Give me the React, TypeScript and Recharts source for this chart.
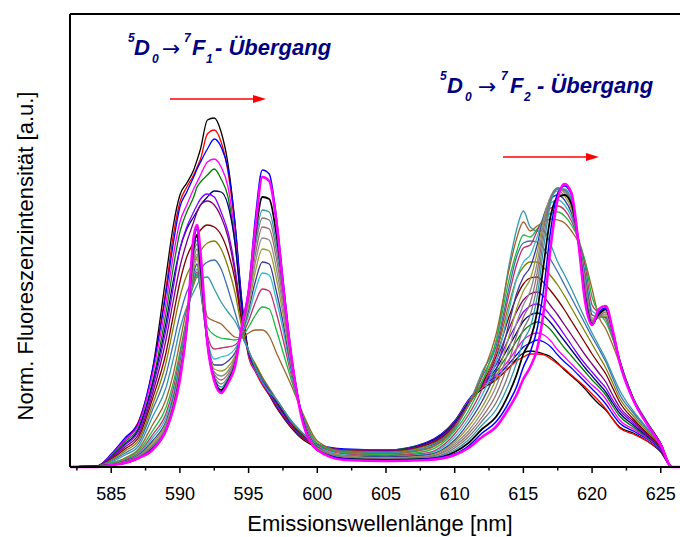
import { LineChart, Line, XAxis, YAxis, ReferenceLine } from "recharts";

// Emission wavelength grid (nm) shared by every spectrum
const wavelengths = [
  582, 584, 585, 586, 587, 588, 589, 589.5, 590, 590.5,
  591, 591.25, 591.5, 592, 592.5, 593, 593.5, 594, 594.5, 595,
  595.5, 596, 596.5, 597, 597.5, 598, 599, 600, 602, 605,
  608, 610, 611, 612, 613, 614, 614.5, 615, 615.5, 616,
  616.5, 617, 617.5, 618, 618.5, 619, 619.5, 620, 620.5, 621,
  621.5, 622, 623, 624, 625, 625.8, 626.4,
];

// first half of the series: broad 592 nm band shrinking
const black1 = [
  0, 1, 12, 27, 44, 97, 192, 240, 272, 284, 297, 307, 318, 347, 349, 335, 303, 245, 165, 112, 97, 83, 72, 60, 50, 41, 27, 20, 16, 15, 23,
  45, 65, 78, 87, 100, 108, 114, 116, 115, 113, 110, 104, 97, 91, 85, 78, 70, 63, 57, 48, 40, 34, 26, 15, 0, 0,
];
const red1 = [
  0, 1, 12, 28, 46, 95, 180, 230, 265, 280, 292, 300, 308, 333, 337, 325, 295, 240, 162, 110, 95, 82, 72, 61, 51, 42, 28, 22, 17, 16, 24,
  46, 66, 80, 88, 100, 106, 110, 113, 113, 112, 108, 103, 98, 92, 86, 80, 73, 66, 58, 48, 39, 33, 26, 16, 0, 0,
];
const blue1 = [
  0, 1, 13, 29, 45, 97, 175, 222, 260, 275, 290, 298, 305, 318, 328, 320, 298, 245, 168, 113, 96, 84, 73, 62, 52, 43, 29, 23, 18, 17, 25,
  46, 67, 82, 90, 104, 112, 120, 124, 127, 125, 120, 112, 105, 99, 92, 85, 78, 71, 63, 53, 44, 36, 28, 17, 0, 0,
];
const magenta1 = [
  0, 1, 12, 27, 43, 92, 165, 210, 245, 262, 278, 285, 292, 305, 308, 300, 280, 232, 160, 112, 96, 84, 74, 63, 53, 44, 30, 23, 17, 16, 24,
  45, 66, 82, 92, 108, 118, 127, 132, 134, 132, 126, 117, 110, 103, 96, 89, 82, 76, 68, 57, 47, 38, 29, 18, 0, 0,
];
const green1 = [
  0, 1, 11, 25, 40, 85, 155, 198, 235, 255, 270, 280, 285, 292, 298, 288, 270, 225, 158, 113, 98, 85, 75, 64, 54, 45, 30, 23, 17, 17, 24,
  45, 65, 82, 95, 115, 126, 136, 142, 145, 143, 137, 128, 119, 111, 103, 95, 87, 80, 72, 61, 51, 40, 30, 18, 0, 0,
];
const navy1 = [
  0, 1, 10, 23, 38, 82, 145, 185, 218, 238, 250, 256, 262, 270, 276, 275, 262, 225, 162, 115, 99, 86, 76, 65, 55, 45, 31, 22, 17, 16, 24,
  44, 64, 82, 98, 122, 134, 146, 152, 154, 151, 144, 135, 126, 117, 108, 99, 91, 83, 75, 64, 54, 42, 31, 19, 0, 0,
];
const violet1 = [
  0, 1, 10, 22, 36, 78, 138, 178, 218, 240, 255, 262, 268, 273, 270, 255, 235, 200, 150, 113, 100, 87, 77, 66, 56, 46, 31, 22, 17, 16, 23,
  43, 63, 82, 102, 130, 143, 155, 161, 163, 159, 151, 142, 132, 122, 112, 103, 95, 87, 79, 67, 57, 44, 32, 19, 0, 0,
];
const purple1 = [
  0, 1, 9, 20, 33, 73, 128, 165, 200, 225, 245, 255, 262, 266, 262, 250, 230, 195, 148, 114, 101, 88, 78, 67, 57, 46, 32, 22, 17, 16, 23,
  42, 62, 83, 106, 140, 155, 167, 173, 175, 170, 161, 152, 142, 132, 122, 112, 103, 94, 85, 72, 60, 46, 33, 20, 0, 0,
];
const wine1 = [
  0, 1, 8, 18, 30, 68, 115, 150, 185, 210, 225, 232, 237, 242, 240, 232, 215, 188, 145, 115, 102, 89, 78, 67, 57, 47, 32, 22, 16, 15, 22,
  41, 62, 84, 110, 152, 170, 183, 189, 190, 184, 176, 167, 157, 146, 135, 124, 113, 103, 93, 79, 65, 48, 34, 20, 0, 0,
];
const olive1 = [
  0, 1, 7, 16, 27, 62, 105, 138, 170, 192, 205, 210, 216, 224, 226, 218, 200, 175, 140, 116, 103, 90, 79, 68, 58, 47, 33, 22, 16, 15, 21,
  40, 61, 86, 114, 165, 188, 200, 205, 205, 199, 191, 182, 171, 159, 147, 135, 123, 111, 99, 84, 69, 51, 36, 21, 0, 0,
];
const royal1 = [
  0, 1, 6, 14, 24, 57, 93, 122, 152, 175, 188, 193, 198, 205, 207, 198, 178, 155, 132, 116, 100, 88, 78, 68, 58, 48, 33, 21, 16, 14, 20,
  40, 61, 90, 120, 182, 210, 224, 226, 225, 218, 207, 195, 182, 169, 156, 143, 130, 118, 105, 89, 73, 54, 38, 22, 0, 0,
];
const teal1 = [
  0, 1, 5, 12, 21, 50, 80, 107, 138, 160, 175, 182, 188, 190, 178, 165, 155, 146, 132, 117, 99, 85, 75, 68, 58, 48, 33, 21, 15, 14, 19,
  38, 62, 95, 125, 205, 237, 256, 240, 236, 236, 222, 205, 192, 178, 163, 148, 134, 121, 108, 92, 77, 56, 39, 22, 0, 0,
];

// second half: 591 / 596 nm split and 618 nm peak growing
const brown2 = [
  0, 1, 4, 9, 18, 42, 68, 92, 125, 158, 182, 190, 186, 150, 146, 143, 136, 130, 129, 134, 137, 137, 131, 115, 100, 85, 52, 26, 15, 13, 18,
  40, 62, 92, 132, 200, 228, 245, 236, 241, 245, 248, 247, 244, 236, 225, 205, 178, 150, 138, 122, 104, 68, 44, 23, 0, 0,
];
const green2 = [
  0, 1, 4, 8, 16, 36, 60, 83, 115, 150, 185, 192, 180, 140, 132, 129, 128, 127, 130, 140, 152, 160, 158, 138, 115, 92, 50, 24, 14, 12, 16,
  36, 56, 85, 125, 190, 215, 232, 230, 238, 247, 254, 255, 251, 242, 228, 205, 170, 154, 145, 128, 106, 69, 45, 23, 0, 0,
];
const crimson2 = [
  0, 1, 3, 7, 14, 32, 54, 77, 110, 148, 188, 195, 178, 132, 118, 119, 120, 122, 131, 146, 165, 178, 176, 155, 128, 98, 49, 22, 13, 11, 14,
  33, 52, 78, 115, 175, 202, 219, 222, 236, 250, 259, 261, 257, 246, 228, 200, 162, 154, 148, 130, 107, 69, 45, 23, 0, 0,
];
const cyan2 = [
  0, 1, 3, 6, 13, 29, 50, 72, 106, 146, 190, 198, 176, 128, 108, 110, 112, 118, 132, 152, 177, 194, 192, 168, 138, 102, 48, 21, 12, 10, 13,
  30, 48, 72, 105, 160, 188, 205, 212, 230, 252, 264, 267, 262, 250, 228, 194, 156, 152, 149, 131, 107, 69, 45, 23, 0, 0,
];
const navy2 = [
  0, 1, 3, 6, 12, 26, 46, 68, 102, 144, 194, 203, 178, 126, 102, 102, 106, 114, 133, 157, 186, 205, 203, 177, 145, 106, 47, 20, 11, 10, 12,
  27, 44, 66, 96, 146, 173, 190, 200, 222, 252, 268, 272, 267, 254, 228, 190, 152, 150, 150, 132, 107, 68, 44, 23, 0, 0,
];
const olive2 = [
  0, 1, 3, 5, 11, 24, 44, 65, 99, 143, 198, 208, 181, 125, 98, 96, 100, 111, 134, 161, 196, 218, 216, 190, 153, 110, 46, 19, 11, 9, 11,
  25, 40, 60, 88, 133, 158, 176, 188, 214, 250, 270, 276, 271, 258, 228, 186, 149, 149, 151, 133, 107, 68, 44, 23, 0, 0,
];
const gray2 = [
  0, 1, 2, 5, 11, 22, 42, 63, 97, 142, 203, 213, 185, 124, 95, 91, 96, 109, 135, 165, 205, 229, 227, 200, 160, 113, 45, 18, 10, 9, 10,
  23, 36, 55, 80, 120, 144, 162, 176, 204, 246, 271, 278, 274, 261, 228, 183, 147, 150, 153, 134, 107, 68, 44, 23, 0, 0,
];
const rosy2 = [
  0, 1, 2, 5, 10, 21, 40, 61, 95, 141, 207, 218, 189, 124, 93, 87, 93, 107, 136, 168, 213, 240, 238, 210, 167, 116, 45, 18, 10, 8, 10,
  21, 33, 50, 72, 108, 131, 150, 164, 194, 240, 270, 279, 276, 263, 228, 180, 146, 151, 155, 135, 107, 68, 44, 23, 0, 0,
];
const silver2 = [
  0, 1, 2, 4, 10, 20, 39, 60, 93, 140, 212, 223, 193, 124, 91, 83, 90, 105, 137, 171, 221, 249, 247, 218, 172, 118, 44, 17, 9, 8, 9,
  19, 30, 46, 64, 96, 118, 138, 152, 182, 232, 268, 279, 277, 265, 228, 177, 145, 152, 157, 136, 107, 68, 44, 23, 0, 0,
];
const teal2 = [
  0, 1, 2, 4, 9, 19, 38, 59, 91, 139, 216, 227, 197, 124, 89, 80, 88, 103, 138, 173, 226, 257, 255, 225, 177, 120, 44, 17, 9, 7, 9,
  17, 27, 42, 57, 85, 104, 126, 140, 170, 222, 265, 278, 278, 267, 228, 174, 144, 153, 158, 136, 107, 68, 44, 23, 0, 0,
];
const black2 = [
  0, 1, 2, 4, 9, 18, 37, 58, 90, 139, 220, 232, 201, 124, 88, 77, 86, 102, 139, 175, 233, 270, 268, 235, 182, 122, 44, 17, 8, 7, 8,
  15, 24, 38, 50, 75, 92, 113, 127, 155, 205, 252, 270, 272, 263, 226, 170, 143, 153, 158, 136, 106, 68, 44, 23, 0, 0,
];
const blue2 = [
  0, 1, 2, 4, 9, 18, 37, 58, 89, 140, 226, 238, 208, 124, 87, 75, 85, 101, 140, 177, 250, 297, 293, 252, 188, 124, 44, 17, 8, 6, 8,
  13, 21, 34, 45, 66, 80, 100, 115, 138, 180, 238, 274, 281, 272, 226, 167, 142, 155, 159, 136, 106, 67, 43, 22, 0, 0,
];
const magenta2 = [
  0, 0, 2, 4, 9, 17, 37, 57, 87, 140, 230, 242, 214, 124, 86, 74, 84, 100, 140, 175, 240, 290, 286, 248, 182, 122, 42, 17, 7, 6, 7,
  12, 19, 30, 40, 60, 72, 88, 100, 118, 158, 222, 268, 283, 274, 225, 165, 142, 158, 161, 137, 105, 67, 43, 22, 0, 0,
];

const spectra = [
  black1, red1, blue1, magenta1, green1, navy1, violet1, purple1, wine1, olive1, royal1, teal1,
  brown2, green2, crimson2, cyan2, navy2, olive2, gray2, rosy2, silver2, teal2, black2, blue2, magenta2,
];
const spectrumColors = [
  "#000000", "#ff0000", "#0000ff", "#ff00ff", "#008000", "#000080", "#8000ff", "#800080", "#800000", "#808000", "#3f6fb0", "#3399a8",
  "#a0622d", "#1fb83f", "#c0306a", "#33bbcc", "#3a3a9e", "#9c9c30", "#8c8c8c", "#9c6b6b", "#7a7a7a", "#2f98a8", "#000000", "#0000ff", "#ff00ff",
];
const spectrumWidths = [
  1.3, 1.3, 1.3, 1.3, 1.3, 1.3, 1.3, 1.3, 1.3, 1.3, 1.3, 1.3,
  1.3, 1.3, 1.3, 1.3, 1.3, 1.3, 1.3, 1.3, 1.3, 1.3, 1.8, 1.5, 2.6,
];

const xTicks = [582.5, 585, 587.5, 590, 592.5, 595, 597.5, 600, 602.5, 605, 607.5, 610, 612.5, 615, 617.5, 620, 622.5, 625];
const yMax = 453;
const yTicks = Array.from({ length: 17 }, (_, i) => (yMax / 16) * i);

const data = wavelengths.map((nm, i) => {
  const row: Record<string, number> = { nm };
  spectra.forEach((s, k) => {
    row[`c${k}`] = s[i];
  });
  return row;
});

const FONT = "'Liberation Sans', Arial, sans-serif";
const NAVY = "#000080";

function WaveTick(props: any) {
  const { x, y, payload } = props;
  const major = payload.value % 5 === 0;
  return (
    <g>
      <line x1={x} x2={x} y1={y} y2={y + (major ? 6 : 3.5)} stroke="#000" strokeWidth={1.5} />
      {major && (
        <text x={x} y={y + 33} textAnchor="middle" fontSize={18} fontFamily={FONT} fill="#000">
          {payload.value}
        </text>
      )}
    </g>
  );
}

function TransitionLabel({ x, y, sub, offs }: { x: number; y: number; sub: string; offs: number[] }) {
  const bi = { fontFamily: FONT, fontWeight: 700, fontStyle: "italic", fill: NAVY } as const;
  return (
    <g>
      <text x={x + offs[0]} y={y - 13} fontSize={12} {...bi}>5</text>
      <text x={x + offs[1]} y={y} fontSize={22} {...bi}>D</text>
      <text x={x + offs[2]} y={y + 8} fontSize={12} {...bi}>0</text>
      <text x={x + offs[3]} y={y + 1} fontSize={22} fontFamily="'DejaVu Sans', sans-serif" fill={NAVY}>→</text>
      <text x={x + offs[4]} y={y - 13} fontSize={12} {...bi}>7</text>
      <text x={x + offs[5]} y={y} fontSize={22} {...bi}>F</text>
      <text x={x + offs[6]} y={y + 8} fontSize={12} {...bi}>{sub}</text>
      <text x={x + offs[7]} y={y} fontSize={22} {...bi}>- Übergang</text>
    </g>
  );
}

function RedArrow({ x1, x2, y }: { x1: number; x2: number; y: number }) {
  return (
    <g>
      <line x1={x1} x2={x2 - 10} y1={y} y2={y} stroke="#ff0000" strokeWidth={1.6} />
      <polygon points={`${x2 - 13},${y - 4} ${x2},${y} ${x2 - 13},${y + 4}`} fill="#ff0000" />
    </g>
  );
}

export default function App() {
  return (
    <div style={{ position: "absolute", left: 0, top: 0, width: 680, height: 537, background: "#fff" }}>
      <LineChart width={680} height={537} data={data} margin={{ top: 14, right: 0, bottom: 0, left: 70 }}>
        <XAxis
          dataKey="nm"
          type="number"
          domain={[582, 626.4]}
          ticks={xTicks}
          interval={0}
          allowDataOverflow
          height={70}
          tickSize={0}
          tickMargin={0}
          tickLine={false}
          tick={<WaveTick />}
          axisLine={{ stroke: "#000", strokeWidth: 2 }}
        />
        <YAxis
          type="number"
          domain={[0, yMax]}
          ticks={yTicks}
          interval={0}
          mirror
          tick={false}
          tickSize={4}
          tickLine={{ stroke: "#000", strokeWidth: 1.3 }}
          axisLine={{ stroke: "#000", strokeWidth: 2 }}
        />
        <ReferenceLine y={yMax} stroke="#000" strokeWidth={2} />
        {spectra.map((_, k) => (
          <Line
            key={k}
            dataKey={`c${k}`}
            type="monotone"
            stroke={spectrumColors[k]}
            strokeWidth={spectrumWidths[k]}
            dot={false}
            activeDot={false}
            isAnimationActive={false}
          />
        ))}
      </LineChart>
      <svg width={680} height={537} style={{ position: "absolute", left: 0, top: 0, pointerEvents: "none" }}>
        <TransitionLabel x={128} y={55} sub="1" offs={[0, 6, 24, 34, 56, 64, 78, 87]} />
        <TransitionLabel x={440} y={93} sub="2" offs={[0, 7, 25, 38, 61, 70, 84, 97]} />
        <RedArrow x1={170} x2={266} y={99} />
        <RedArrow x1={503} x2={599} y={157} />
        <text x={0} y={0} transform="translate(33,256) rotate(-90)" textAnchor="middle" fontSize={22} fontFamily={FONT} fill="#000">
          Norm. Fluoreszenzintensität [a.u.]
        </text>
        <text x={380} y={531} textAnchor="middle" fontSize={22} fontFamily={FONT} fill="#000">
          Emissionswellenlänge [nm]
        </text>
      </svg>
    </div>
  );
}
